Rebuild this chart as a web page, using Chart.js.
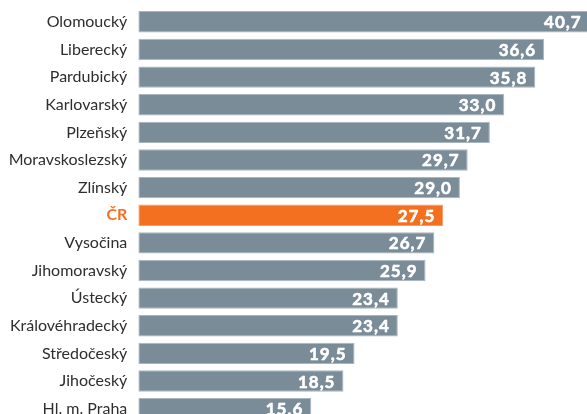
<!DOCTYPE html>
<html>
<head>
<meta charset="utf-8">
<script src="https://cdn.jsdelivr.net/npm/chart.js@4.4.1/dist/chart.umd.min.js"></script>
<style>
html,body{margin:0;padding:0;background:#fff;overflow:hidden;}
#wrap{position:absolute;left:0;top:0;width:587px;height:424px;}
</style>
</head>
<body>
<div id="wrap"><canvas id="c" width="587" height="424"></canvas></div>
<script>
const categories = ["Olomoucký","Liberecký","Pardubický","Karlovarský","Plzeňský","Moravskoslezský","Zlínský","ČR","Vysočina","Jihomoravský","Ústecký","Královéhradecký","Středočeský","Jihočeský","Hl. m. Praha"];
const values = [40.7,36.6,35.8,33.0,31.7,29.7,29.0,27.5,26.7,25.9,23.4,23.4,19.5,18.5,15.6];
const highlight = "ČR";

const GREY = "#7a8c98";
const GREY_EDGE = "#aab6be";
const ORANGE = "#f47021";
const ORANGE_EDGE = "#f79a63";
const TEXT = "#2e2e2e";

const isHi = i => categories[i] === highlight;

const valueLabels = {
  id: "valueLabels",
  afterDatasetsDraw(chart) {
    const ctx = chart.ctx;
    const meta = chart.getDatasetMeta(0);
    ctx.save();
    ctx.fillStyle = "#ffffff";
    ctx.strokeStyle = "#ffffff";
    ctx.lineWidth = 0.6;
    ctx.lineJoin = "round";
    ctx.font = "bold 17px Lato";
    if ("letterSpacing" in ctx) ctx.letterSpacing = "1px";
    ctx.textAlign = "right";
    ctx.textBaseline = "middle";
    meta.data.forEach((bar, i) => {
      const txt = values[i].toFixed(1).replace(".", ",");
      ctx.fillText(txt, bar.x - 8, bar.y + 1);
      ctx.strokeText(txt, bar.x - 8, bar.y + 1);
    });
    ctx.restore();
  }
};

new Chart(document.getElementById("c"), {
  type: "bar",
  data: {
    labels: categories,
    datasets: [{
      data: values,
      backgroundColor: categories.map((c, i) => isHi(i) ? ORANGE : GREY),
      borderColor: categories.map((c, i) => isHi(i) ? ORANGE_EDGE : GREY_EDGE),
      borderWidth: 1,
      borderSkipped: false,
      categoryPercentage: 1,
      barPercentage: 0.775
    }]
  },
  options: {
    indexAxis: "y",
    responsive: false,
    animation: false,
    devicePixelRatio: 1,
    layout: { padding: { top: 8, bottom: 1.5, left: 0, right: 0 } },
    plugins: { legend: { display: false }, tooltip: { enabled: false } },
    scales: {
      x: { display: false, min: 0, max: 40.46 },
      y: {
        grid: { display: false, drawTicks: false },
        border: { display: false },
        afterFit(scale) { scale.width = 138.3; scale.paddingTop = 0; scale.paddingBottom = 0; },
        ticks: {
          padding: 11,
          color: ctx => isHi(ctx.index) ? ORANGE : TEXT,
          font: ctx => isHi(ctx.index) ? { family: "Lato", size: 16, weight: "bold" } : { family: "Lato", size: 16 }
        }
      }
    }
  },
  plugins: [valueLabels]
});
</script>
</body>
</html>
